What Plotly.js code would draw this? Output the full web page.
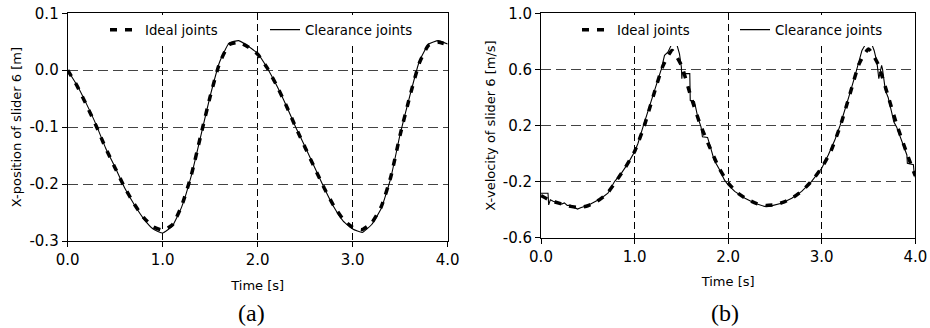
<!DOCTYPE html>
<html>
<head>
<meta charset="utf-8">
<script src="https://cdn.plot.ly/plotly-3.0.1.min.js"></script>
<style>html,body{margin:0;padding:0;background:#fff;}#chart{width:930px;height:328px;}</style>
</head>
<body>
<div id="chart"></div>
<script>
// time grid (s) for the sampled curves
const timeA = [0,0.1,0.2,0.3,0.4,0.5,0.6,0.7,0.8,0.9,1.0,1.1,1.2,1.3,1.4,1.5,1.6,1.7,1.8,1.9,2.0,
               2.1,2.2,2.3,2.4,2.5,2.6,2.7,2.8,2.9,3.0,3.1,3.2,3.3,3.4,3.5,3.6,3.7,3.8,3.9,4.0];

// (a) X-position of slider 6 [m]
const posIdeal = [0,-0.028,-0.062,-0.098,-0.137,-0.172,-0.206,-0.235,-0.259,-0.275,-0.281,-0.272,-0.238,-0.185,-0.115,-0.046,0.013,0.045,0.049,0.041,0.028,
                  0.004,-0.027,-0.062,-0.100,-0.136,-0.172,-0.207,-0.238,-0.262,-0.276,-0.280,-0.268,-0.240,-0.188,-0.113,-0.047,0.012,0.044,0.049,0.045];
const posClear = [0,-0.027,-0.060,-0.096,-0.137,-0.171,-0.207,-0.236,-0.261,-0.279,-0.286,-0.274,-0.240,-0.186,-0.116,-0.045,0.015,0.048,0.052,0.042,0.029,
                  0.004,-0.027,-0.062,-0.100,-0.135,-0.171,-0.207,-0.240,-0.265,-0.279,-0.285,-0.271,-0.243,-0.190,-0.112,-0.046,0.015,0.046,0.052,0.046];

// (b) X-velocity of slider 6 [m/s]
const velIdeal = [-0.30,-0.335,-0.355,-0.375,-0.385,-0.372,-0.34,-0.29,-0.20,-0.10,0.015,0.19,0.41,0.62,0.735,0.63,0.41,0.21,0.05,-0.10,-0.21,
                  -0.28,-0.325,-0.355,-0.37,-0.365,-0.345,-0.31,-0.26,-0.19,-0.10,0.02,0.20,0.42,0.64,0.745,0.64,0.43,0.21,0.02,-0.16];
const timeClear = [0,0.075,0.082,0.10,0.13,0.16,0.19,0.22,0.25,0.28,0.31,0.35,0.39,0.43,0.50,0.57,0.64,0.715,0.786,0.858,0.93,
                   1.0,1.036,1.09,1.14,1.196,1.25,1.285,1.32,1.356,1.39,1.42,1.455,1.48,1.50,1.505,1.51,1.59,1.595,1.64,1.675,
                   1.71,1.725,1.78,1.785,1.82,1.85,1.91,1.96,2.0,2.07,2.18,2.285,2.39,2.46,2.57,2.68,2.786,2.89,3.0,3.07,
                   3.14,3.196,3.25,3.3,3.357,3.39,3.43,3.46,3.5,3.535,3.56,3.59,3.61,3.64,3.65,3.68,3.71,3.75,3.77,3.8,
                   3.84,3.875,3.91,3.915,3.98,3.985,4.0];
const velClear = [-0.283,-0.283,-0.366,-0.33,-0.34,-0.345,-0.35,-0.36,-0.352,-0.37,-0.368,-0.385,-0.396,-0.385,-0.37,-0.345,-0.32,-0.283,-0.2,-0.141,-0.07,
                  0.013,0.072,0.19,0.297,0.415,0.534,0.60,0.70,0.723,0.77,0.787,0.77,0.71,0.617,0.534,0.57,0.57,0.38,0.37,0.26,
                  0.19,0.12,0.115,0.105,0.025,-0.046,-0.117,-0.188,-0.224,-0.27,-0.318,-0.354,-0.377,-0.373,-0.354,-0.318,-0.27,-0.2,-0.105,-0.01,
                  0.096,0.2,0.31,0.427,0.557,0.64,0.735,0.77,0.782,0.78,0.735,0.652,0.534,0.628,0.60,0.45,0.40,0.287,0.226,0.19,
                  0.12,0.06,-0.01,-0.07,-0.08,-0.12,-0.17];

const xTickVals = [0,1,2,3,4];
const xTickText = ['0.0','1.0','2.0','3.0','4.0'];
const yTickValsA = [-0.3,-0.2,-0.1,0.0,0.1];
const yTickTextA = ['-0.3','-0.2','-0.1','0.0','0.1'];
const yTickValsB = [-0.6,-0.2,0.2,0.6,1.0];
const yTickTextB = ['-0.6','-0.2','0.2','0.6','1.0'];

const FONT = 'DejaVu Sans, Arial, sans-serif';
const dashIdeal = {color:'#000', width:3.5, dash:'7px,8px', shape:'spline', smoothing:0.5};
const solidClear = {color:'#000', width:1.1, shape:'spline', smoothing:0.4};

const traces = [
  {x:timeA, y:posIdeal, xaxis:'x', yaxis:'y', mode:'lines', name:'Ideal joints', line:dashIdeal, legend:'legend'},
  {x:timeA, y:posClear, xaxis:'x', yaxis:'y', mode:'lines', name:'Clearance joints', line:solidClear, legend:'legend2'},
  {x:timeA, y:velIdeal, xaxis:'x2', yaxis:'y2', mode:'lines', name:'Ideal joints', line:dashIdeal, legend:'legend3'},
  {x:timeClear, y:velClear, xaxis:'x2', yaxis:'y2', mode:'lines', name:'Clearance joints', line:{color:'#000', width:1.1}, legend:'legend4'}
];

function xax(domain, anchor){
  return {domain:domain, anchor:anchor, range:[0,4], tickvals:xTickVals, ticktext:xTickText,
    showline:true, mirror:true, linecolor:'#000', linewidth:1, ticks:'outside', ticklen:5, tickcolor:'#000',
    showgrid:true, gridcolor:'#000', gridwidth:1.3, griddash:'7px,4px', zeroline:false,
    tickfont:{family:FONT, size:15, color:'#000'},
    title:{text:'Time [s]', font:{family:FONT, size:13, color:'#000'}, standoff:12}};
}
function yax(domain, anchor, range, tv, tt, title){
  return {domain:domain, anchor:anchor, range:range, tickvals:tv, ticktext:tt,
    showline:true, mirror:true, linecolor:'#000', linewidth:1, ticks:'outside', ticklen:5, tickcolor:'#000',
    showgrid:true, gridcolor:'#444', gridwidth:1, griddash:'10px,5px', zeroline:false,
    tickfont:{family:FONT, size:15, color:'#000'},
    title:{text:title, font:{family:FONT, size:13, color:'#000'}, standoff:4}};
}
function leg(xpx, ypx){
  return {x:xpx/930, y:1-ypx/328, xref:'paper', yref:'paper', xanchor:'left', yanchor:'middle',
    bgcolor:'#fff', borderwidth:0, itemwidth:30, font:{family:FONT, size:13.3, color:'#000'}, tracegroupgap:0};
}

const layout = {
  width:930, height:328, margin:{l:0,r:0,t:0,b:0},
  paper_bgcolor:'#fff', plot_bgcolor:'#fff', showlegend:true,
  xaxis: xax([67.7/930, 447.7/930], 'y'),
  yaxis: yax([87/328, 314.7/328], 'x', [-0.3,0.1], yTickValsA, yTickTextA, 'X-position of slider 6 [m]'),
  xaxis2: xax([541/930, 915.3/930], 'y2'),
  yaxis2: yax([90.3/328, 314.7/328], 'x2', [-0.6,1.0], yTickValsB, yTickTextB, 'X-velocity of slider 6 [m/s]'),
  legend: leg(105, 30),
  legend2: leg(265, 30),
  legend3: leg(577, 30),
  legend4: leg(735, 30),
  annotations:[
    {text:'(a)', x:251/930, y:1-313/328, xref:'paper', yref:'paper', showarrow:false, xanchor:'center', yanchor:'middle',
     font:{family:'Liberation Serif, Times New Roman, serif', size:24, color:'#000'}},
    {text:'(b)', x:725/930, y:1-313/328, xref:'paper', yref:'paper', showarrow:false, xanchor:'center', yanchor:'middle',
     font:{family:'Liberation Serif, Times New Roman, serif', size:24, color:'#000'}}
  ]
};

Plotly.newPlot('chart', traces, layout, {displayModeBar:false, staticPlot:true});
</script>
</body>
</html>
